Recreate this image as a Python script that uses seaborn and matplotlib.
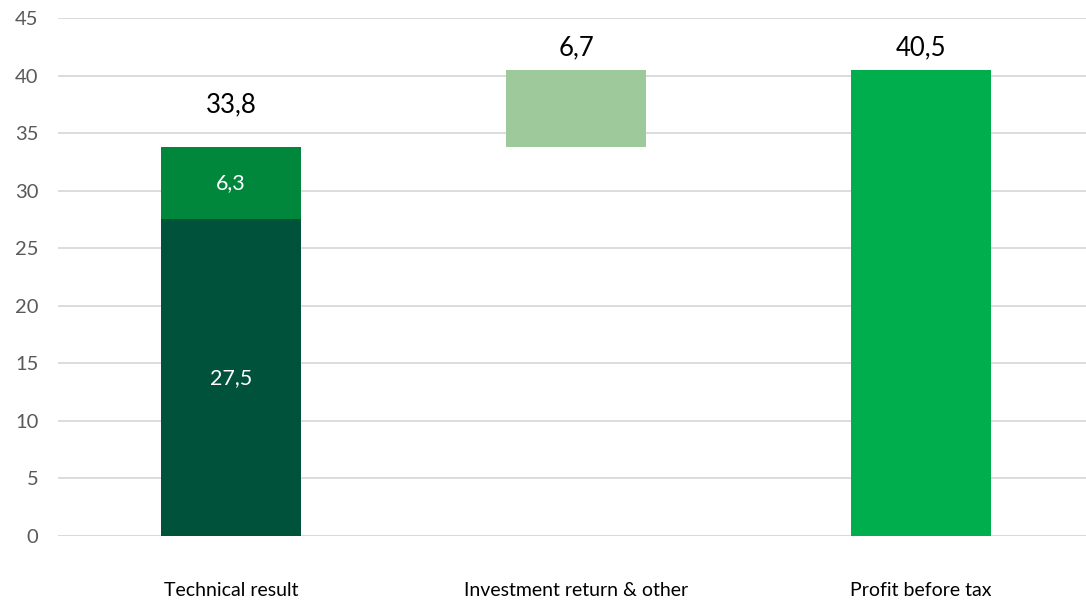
import matplotlib
matplotlib.use("Agg")
import matplotlib.pyplot as plt
import seaborn as sns
import numpy as np
import pandas as pd

# Waterfall of profit before tax
categories = ["Technical result", "Investment return & other", "Profit before tax"]
base_values = [27.5, 0.0, 0.0]          # lower part of technical result
upper_values = [6.3, 0.0, 0.0]          # upper part of technical result
step_values = [0.0, 6.7, 0.0]           # floating investment step
total_values = [0.0, 0.0, 40.5]         # resulting total
bar_totals = [33.8, 6.7, 40.5]          # labels above the bars
y_ticks = [0, 5, 10, 15, 20, 25, 30, 35, 40, 45]

colors = {
    "base": "#00533A",
    "upper": "#00873C",
    "step": "#9DC99B",
    "total": "#00AE4D",
}

sns.set_theme(style="white")
plt.rcParams["font.family"] = ["Lato", "DejaVu Sans"]

fig = plt.figure(figsize=(10.86, 6.03), dpi=100)
ax = fig.add_axes([58 / 1086, 1 - 536 / 603, 1028 / 1086, (536 - 18) / 603])

df = pd.DataFrame({
    "category": categories,
    "base": base_values,
    "upper": upper_values,
    "step": step_values,
    "total": total_values,
})

bar_w = 0.403
offsets = {
    "base": np.zeros(3),
    "upper": np.array(base_values),
    "step": np.array([0.0, bar_totals[0], 0.0]),
    "total": np.zeros(3),
}
for key in ["base", "upper", "step", "total"]:
    sns.barplot(data=df, x="category", y=key, order=categories, color=colors[key],
                width=bar_w, bottom=offsets[key], saturation=1, ax=ax,
                linewidth=0, zorder=3)

ax.set_ylim(0, 45)
left = -(231 - 58) / 345
ax.set_xlim(left, left + 1028 / 345)
ax.set_yticks(y_ticks)
ax.set_yticklabels([str(t) for t in y_ticks])
ax.yaxis.grid(True, color="#D9D9D9", linewidth=1.3, zorder=0)
ax.xaxis.grid(False)
for s in ax.spines.values():
    s.set_visible(False)
ax.axhline(0, color="#D9D9D9", linewidth=1.3, zorder=1)
ax.tick_params(axis="y", length=0, pad=14, labelsize=14.5, labelcolor="#595959")
ax.tick_params(axis="x", length=0, pad=33, labelsize=14, labelcolor="#000000")
ax.set_xlabel("")
ax.set_ylabel("")

# inner labels for the stacked technical result
ax.text(0, base_values[0] / 2, f"{base_values[0]:.1f}".replace(".", ","),
        ha="center", va="center", color="white", fontsize=15.5, zorder=4)
ax.text(0, base_values[0] + upper_values[0] / 2, f"{upper_values[0]:.1f}".replace(".", ","),
        ha="center", va="center", color="white", fontsize=15.5, zorder=4)

# labels above the bars
tops = [bar_totals[0], bar_totals[0] + step_values[1], total_values[2]]
label_offsets = [30, 16, 16]
for i, (val, top, off) in enumerate(zip(bar_totals, tops, label_offsets)):
    ax.annotate(f"{val:.1f}".replace(".", ","), xy=(i, top), xytext=(0, off),
                textcoords="offset points", ha="center", va="center",
                fontsize=18.5, color="#000000", zorder=4)

fig.savefig("out.png", dpi=100)
